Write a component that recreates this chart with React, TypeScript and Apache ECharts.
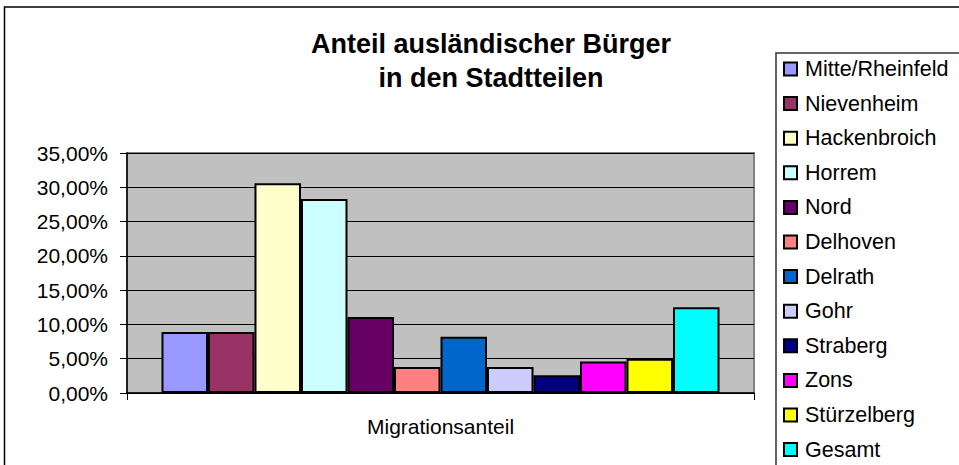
import React, { useEffect, useRef } from "react";
import * as echarts from "echarts";

const categories = ["Migrationsanteil"];
const seriesNames = [
  "Mitte/Rheinfeld",
  "Nievenheim",
  "Hackenbroich",
  "Horrem",
  "Nord",
  "Delhoven",
  "Delrath",
  "Gohr",
  "Straberg",
  "Zons",
  "Stürzelberg",
  "Gesamt",
];
const seriesValues = [0.089, 0.089, 0.306, 0.283, 0.111, 0.038, 0.082, 0.038, 0.026, 0.046, 0.05, 0.125];
const seriesColors = [
  "#9999FF",
  "#993366",
  "#FFFFCC",
  "#CCFFFF",
  "#660066",
  "#FF8080",
  "#0066CC",
  "#CCCCFF",
  "#000080",
  "#FF00FF",
  "#FFFF00",
  "#00FFFF",
];
const yTicks = [0, 0.05, 0.1, 0.15, 0.2, 0.25, 0.3, 0.35];

const FONT = "'Liberation Sans', Arial, sans-serif";

export default function App() {
  const ref = useRef<HTMLDivElement>(null);
  useEffect(() => {
    if (!ref.current) return;
    const chart = echarts.init(ref.current, null, { renderer: "svg" });
    chart.setOption({
      animation: false,
      backgroundColor: "#ffffff",
      textStyle: { fontFamily: FONT },
      title: {
        text: "Anteil ausländischer Bürger\nin den Stadtteilen",
        left: 491,
        top: 27,
        padding: 0,
        textAlign: "center",
        textStyle: {
          fontFamily: FONT,
          fontSize: 27,
          fontWeight: "bold",
          color: "#000",
          lineHeight: 34,
        },
      },
      graphic: [
        {
          type: "rect",
          shape: { x: 4.5, y: 7, width: 1000, height: 1000 },
          style: { fill: "none", stroke: "#000", lineWidth: 1.5 },
          silent: true,
          z: -1,
        },
        {
          type: "rect",
          shape: { x: 776, y: 53, width: 300, height: 500 },
          style: { fill: "#fff", stroke: "#333", lineWidth: 1.5 },
          silent: true,
          z: 0,
        },
      ],
      legend: {
        orient: "vertical",
        left: 783,
        top: 58,
        padding: 0,
        itemWidth: 13,
        itemHeight: 13,
        itemGap: 12.6,
        icon: "rect",
        z: 5,
        textStyle: { fontFamily: FONT, fontSize: 21.5, color: "#000", lineHeight: 22, padding: [0, 0, 0, 3] },
        data: seriesNames,
      },
      grid: {
        left: 127,
        right: 205,
        top: 153,
        bottom: 72,
        show: true,
        backgroundColor: "#C0C0C0",
        borderColor: "#808080",
        borderWidth: 2,
      },
      xAxis: {
        type: "category",
        data: categories,
        axisLine: { show: true, lineStyle: { color: "#000", width: 1.5 } },
        axisTick: { show: true, length: 7, lineStyle: { color: "#000" } },
        axisLabel: { fontFamily: FONT, fontSize: 21, color: "#000", margin: 23 },
      },
      yAxis: {
        type: "value",
        min: yTicks[0],
        max: yTicks[yTicks.length - 1],
        interval: 0.05,
        axisLine: { show: true, lineStyle: { color: "#000", width: 1.5 } },
        axisTick: { show: true, length: 7, lineStyle: { color: "#000" } },
        splitLine: { show: true, lineStyle: { color: "#000", width: 1 } },
        axisLabel: {
          fontFamily: FONT,
          fontSize: 21,
          color: "#000",
          margin: 19,
          formatter: (v: number) => (v * 100).toFixed(2).replace(".", ",") + "%",
        },
      },
      series: seriesNames.map((name, i) => ({
        name,
        type: "bar",
        data: [seriesValues[i]],
        barGap: "0%",
        barCategoryGap: "11%",
        itemStyle: { color: seriesColors[i], borderColor: "#000", borderWidth: 2 },
      })),
    });
    return () => chart.dispose();
  }, []);
  return (
    <div
      ref={ref}
      style={{ position: "fixed", left: 0, top: 0, width: 959, height: 465 }}
    />
  );
}
